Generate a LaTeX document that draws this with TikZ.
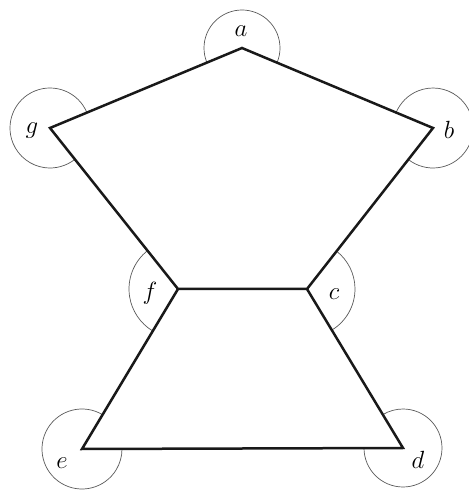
\documentclass[tikz,border=0pt]{standalone}
\usepackage{tikz}
\usetikzlibrary{calc}

\newcommand{\exarc}[4]{\draw[exangle] (#1) ++(#2:#4) arc[start angle=#2, end angle=#3, radius=#4];}

\begin{document}
\begin{tikzpicture}[
    x=1pt, y=1pt,
    edge/.style   ={line width=2.5pt, line join=miter, black!90},
    exangle/.style={line width=0.7pt, black!65},
    vlabel/.style ={inner sep=0pt, font=\fontsize{26}{30}\selectfont},
]
\useasboundingbox (0,0) rectangle (469,491);
% vertices
\coordinate (a) at (242,443);
\coordinate (b) at (433,363);
\coordinate (c) at (307,202);
\coordinate (d) at (403,43);
\coordinate (e) at (82,42);
\coordinate (f) at (178,202);
\coordinate (g) at (50,363);
% exterior angles
\exarc{a}{-22.7}{202.6}{38}
\exarc{b}{-128.05}{157.3}{40}
\exarc{c}{-58.9}{51.95}{48}
\exarc{d}{180}{481.1}{39}
\exarc{e}{59}{360}{40}
\exarc{f}{128.5}{239}{49}
\exarc{g}{22.6}{308.5}{40}
% labels
\node[vlabel] (la) at (241,460) {$a$};
\node[vlabel] (lb) at (449,361) {$b$};
\node[vlabel] (lc) at (334,197) {$c$};
\node[vlabel] (ld) at (418,31)  {$d$};
\node[vlabel] (le) at (62,28)   {$e$};
\node[vlabel] (lf) at (150,198) {$f$};
\node[vlabel] (lg) at (32,360)  {$g$};
% polygons
\draw[edge] (f) -- (g) -- (a) -- (b) -- (c) -- cycle;
\draw[edge] (f) -- (e) -- (d) -- (c);
\end{tikzpicture}
\end{document}
